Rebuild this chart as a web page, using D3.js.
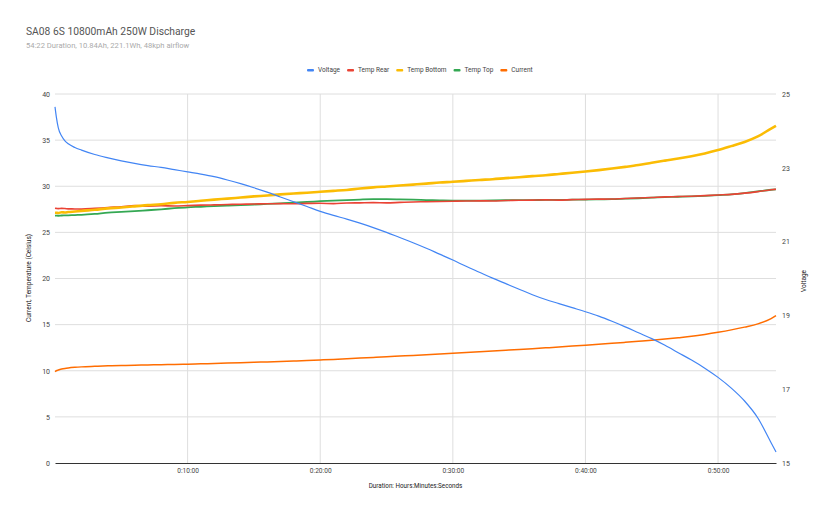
<!DOCTYPE html>
<html>
<head>
<meta charset="utf-8">
<script src="https://cdn.jsdelivr.net/npm/d3@7"></script>
<style>
  body { margin: 0; background: #fff; }
  text { font-family: Roboto, "Liberation Sans", Arial, sans-serif; }
</style>
</head>
<body>
<svg id="chart"></svg>
<script>
// elapsed time in minutes
var minutes = [0, 0.1, 0.25, 0.5, 0.75, 1, 1.5, 2, 3, 4, 5, 6, 7, 8, 9, 10, 11, 12, 13, 14, 15, 16, 17, 18, 19, 20,
  21, 22, 23, 24, 25, 26, 27, 28, 29, 30, 31, 32, 33, 34, 35, 36, 37, 38, 39, 40,
  41, 42, 43, 44, 45, 46, 47, 48, 49, 50, 51, 52, 53, 54, 54.37];

var voltage = [24.65, 24.38, 24.08, 23.86, 23.73, 23.65, 23.55, 23.48, 23.36, 23.27, 23.19, 23.12, 23.06, 23.01, 22.95, 22.89,
  22.83, 22.76, 22.67, 22.57, 22.46, 22.34, 22.21, 22.08, 21.95, 21.82,
  21.71, 21.61, 21.50, 21.38, 21.25, 21.11, 20.97, 20.82, 20.66, 20.50,
  20.33, 20.17, 20.01, 19.86, 19.71, 19.56, 19.43, 19.32, 19.21, 19.10,
  18.98, 18.84, 18.69, 18.53, 18.37, 18.19, 17.99, 17.79, 17.57, 17.32,
  17.03, 16.68, 16.22, 15.55, 15.30];

var tempRear = [27.62, 27.60, 27.58, 27.60, 27.58, 27.55, 27.54, 27.52, 27.60, 27.70, 27.78, 27.90, 27.85, 27.88, 27.86, 27.90,
  27.95, 27.98, 28.02, 28.05, 28.08, 28.10, 28.12, 28.10, 28.14, 28.15,
  28.12, 28.18, 28.20, 28.22, 28.20, 28.25, 28.30, 28.32, 28.35, 28.38,
  28.40, 28.42, 28.40, 28.45, 28.48, 28.50, 28.52, 28.50, 28.55, 28.58,
  28.60, 28.62, 28.68, 28.72, 28.78, 28.85, 28.88, 28.92, 28.98, 29.05,
  29.12, 29.25, 29.42, 29.62, 29.68];

var tempBottom = [27.13, 27.12, 27.10, 27.18, 27.15, 27.20, 27.26, 27.33, 27.45, 27.60, 27.70, 27.82, 27.95, 28.05, 28.20, 28.30,
  28.42, 28.55, 28.66, 28.78, 28.90, 29.00, 29.12, 29.22, 29.30, 29.40,
  29.50, 29.60, 29.75, 29.88, 29.98, 30.08, 30.18, 30.28, 30.40, 30.48,
  30.58, 30.68, 30.76, 30.88, 30.98, 31.10, 31.20, 31.33, 31.46, 31.60,
  31.75, 31.92, 32.10, 32.30, 32.55, 32.78, 33.00, 33.25, 33.55, 33.92,
  34.35, 34.80, 35.40, 36.25, 36.55];

var tempTop = [26.82, 26.81, 26.80, 26.83, 26.84, 26.85, 26.88, 26.90, 27.00, 27.15, 27.22, 27.30, 27.40, 27.50, 27.62, 27.72,
  27.78, 27.85, 27.90, 27.95, 28.02, 28.08, 28.15, 28.22, 28.30, 28.38,
  28.45, 28.50, 28.56, 28.60, 28.60, 28.58, 28.55, 28.50, 28.47, 28.45,
  28.44, 28.45, 28.46, 28.48, 28.50, 28.50, 28.52, 28.52, 28.54, 28.55,
  28.58, 28.60, 28.65, 28.70, 28.76, 28.82, 28.86, 28.90, 28.96, 29.03,
  29.12, 29.26, 29.45, 29.62, 29.66];

var current = [9.90, 10.00, 10.08, 10.18, 10.25, 10.30, 10.37, 10.42, 10.48, 10.53, 10.57, 10.60, 10.63, 10.66, 10.68, 10.71,
  10.75, 10.79, 10.83, 10.87, 10.92, 10.96, 11.01, 11.06, 11.11, 11.17,
  11.23, 11.30, 11.37, 11.44, 11.51, 11.59, 11.66, 11.74, 11.82, 11.90,
  11.98, 12.06, 12.14, 12.22, 12.30, 12.39, 12.48, 12.57, 12.67, 12.77,
  12.87, 12.97, 13.08, 13.19, 13.30, 13.43, 13.58, 13.74, 13.94, 14.17,
  14.43, 14.73, 15.08, 15.65, 15.97];

var xTicks = [10, 20, 30, 40, 50];
var leftTicks = [0, 5, 10, 15, 20, 25, 30, 35, 40];
var rightTicks = [15, 17, 19, 21, 23, 25];

var seriesNames = ["Voltage", "Temp Rear", "Temp Bottom", "Temp Top", "Current"];
var seriesColors = ["#4285F4", "#EA4335", "#FBBC04", "#34A853", "#FF6D01"];

var width = 832, height = 515;
var margin = {top: 94, right: 56, bottom: 52, left: 55};

var svg = d3.select("#chart")
  .attr("width", width)
  .attr("height", height);

var x = d3.scaleLinear()
  .domain([0, 54.37])
  .range([margin.left, width - margin.right]);

var yLeft = d3.scaleLinear()
  .domain([0, 40])
  .range([height - margin.bottom, margin.top]);

var yRight = d3.scaleLinear()
  .domain([15, 25])
  .range([height - margin.bottom, margin.top]);

// title + subtitle
svg.append("text")
  .attr("x", 26).attr("y", 35)
  .style("font-size", "10.3px")
  .style("fill", "#555")
  .text("SA08 6S 10800mAh 250W Discharge");

svg.append("text")
  .attr("x", 26).attr("y", 48)
  .style("font-size", "7.6px")
  .style("fill", "#aaa")
  .text("54:22 Duration, 10.84Ah, 221.1Wh, 48kph airflow");

// horizontal gridlines
svg.append("g")
  .selectAll("line")
  .data(leftTicks.filter(function(d) { return d > 0; }))
  .enter()
  .append("line")
  .attr("x1", x.range()[0])
  .attr("x2", x.range()[1])
  .attr("y1", function(d) { return yLeft(d); })
  .attr("y2", function(d) { return yLeft(d); })
  .attr("stroke", "#dedede")
  .attr("stroke-width", 1);

// vertical gridlines
svg.append("g")
  .selectAll("line")
  .data(xTicks)
  .enter()
  .append("line")
  .attr("x1", function(d) { return x(d); })
  .attr("x2", function(d) { return x(d); })
  .attr("y1", yLeft(40))
  .attr("y2", yLeft(0))
  .attr("stroke", "#dedede")
  .attr("stroke-width", 1);

// x axis
var xAxis = svg.append("g")
  .attr("transform", "translate(0," + yLeft(0) + ")")
  .call(d3.axisBottom(x)
    .tickValues(xTicks)
    .tickSize(0)
    .tickPadding(5)
    .tickFormat(function(d) { return "0:" + d + ":00"; }));
xAxis.select(".domain").attr("stroke", "#333");
xAxis.selectAll("text").style("font-size", "6.6px").style("fill", "#444");

// left axis
var leftAxis = svg.append("g")
  .attr("transform", "translate(" + margin.left + ",0)")
  .call(d3.axisLeft(yLeft).tickValues(leftTicks).tickSize(0).tickPadding(5));
leftAxis.select(".domain").remove();
leftAxis.selectAll("text").style("font-size", "7px").style("fill", "#444");

// right axis
var rightAxis = svg.append("g")
  .attr("transform", "translate(" + (width - margin.right) + ",0)")
  .call(d3.axisRight(yRight).tickValues(rightTicks).tickSize(0).tickPadding(6));
rightAxis.select(".domain").remove();
rightAxis.selectAll("text").style("font-size", "7px").style("fill", "#444");

// axis titles
svg.append("text")
  .attr("transform", "translate(31,278)rotate(-90)")
  .attr("text-anchor", "middle")
  .style("font-size", "6.5px")
  .style("fill", "#222")
  .text("Current, Temperature (Celsius)");

svg.append("text")
  .attr("transform", "translate(806,281)rotate(-90)")
  .attr("text-anchor", "middle")
  .style("font-size", "6.5px")
  .style("fill", "#222")
  .text("Voltage");

svg.append("text")
  .attr("x", (x.range()[0] + x.range()[1]) / 2)
  .attr("y", 488)
  .attr("text-anchor", "middle")
  .style("font-size", "6.3px")
  .style("fill", "#222")
  .text("Duration: Hours:Minutes:Seconds");

// lines
function makeLine(yScale) {
  return d3.line()
    .x(function(d, i) { return x(minutes[i]); })
    .y(function(d) { return yScale(d); })
    .curve(d3.curveMonotoneX);
}

var lineData = [
  {values: current, scale: yLeft, color: seriesColors[4], w: 1.5},
  {values: tempTop, scale: yLeft, color: seriesColors[3], w: 1.8},
  {values: tempRear, scale: yLeft, color: seriesColors[1], w: 1.6},
  {values: tempBottom, scale: yLeft, color: seriesColors[2], w: 2.6},
  {values: voltage, scale: yRight, color: seriesColors[0], w: 1.2}
];

svg.append("g")
  .selectAll("path")
  .data(lineData)
  .enter()
  .append("path")
  .attr("fill", "none")
  .attr("stroke", function(d) { return d.color; })
  .attr("stroke-width", function(d) { return d.w; })
  .attr("stroke-linejoin", "round")
  .attr("d", function(d) { return makeLine(d.scale)(d.values); });

// legend
var legend = svg.append("g").attr("transform", "translate(0,70)");
var lx = 307;
seriesNames.forEach(function(name, i) {
  var item = legend.append("g").attr("transform", "translate(" + lx + ",0)");
  item.append("rect")
    .attr("x", 0).attr("y", -1)
    .attr("width", 7).attr("height", 2.5)
    .attr("rx", 1)
    .attr("fill", seriesColors[i]);
  var t = item.append("text")
    .attr("x", 11).attr("y", 2.3)
    .style("font-size", "6.5px")
    .style("fill", "#444")
    .text(name);
  lx += 11 + t.node().getComputedTextLength() + 7;
});
</script>
</body>
</html>
